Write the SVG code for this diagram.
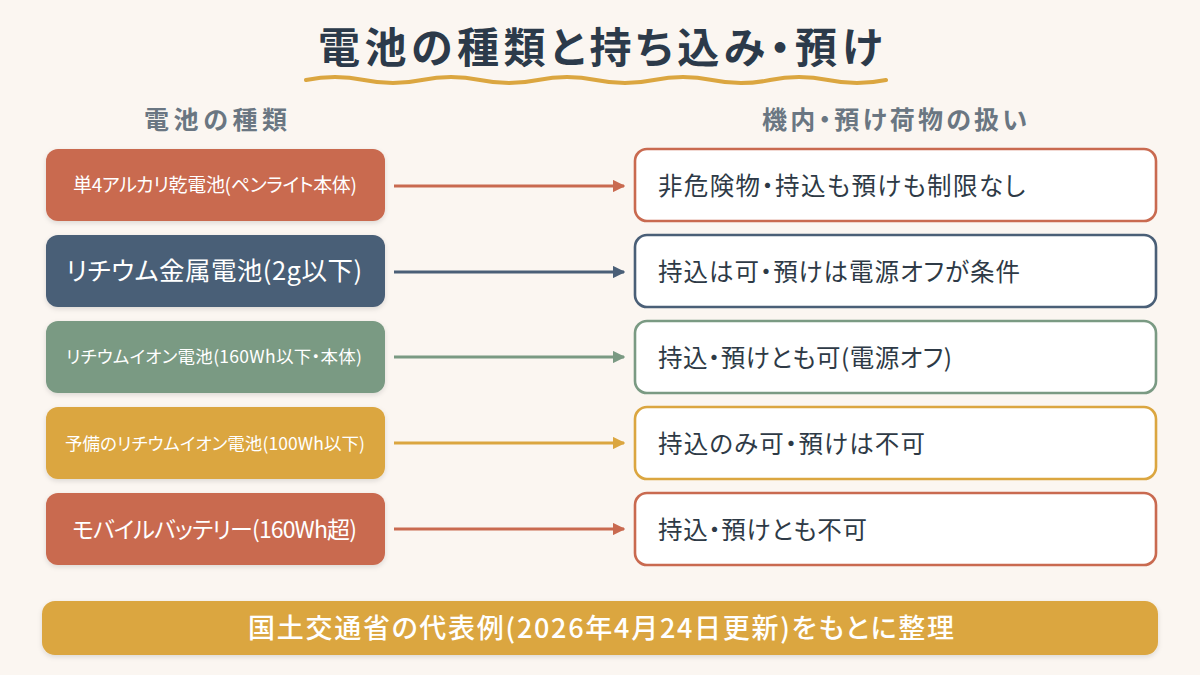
<svg xmlns="http://www.w3.org/2000/svg" width="1200" height="675" viewBox="0 0 1200 675">
  <defs>
    <filter id="sh" x="-5%" y="-10%" width="110%" height="130%">
      <feDropShadow dx="0" dy="2" stdDeviation="2.5" flood-color="#000" flood-opacity="0.12"/>
    </filter>
    <marker id="ah-red" viewBox="0 0 10 10" refX="9" refY="5" markerWidth="4.2" markerHeight="4.2" orient="auto"><path d="M0,0 L10,5 L0,10 z" fill="#C96A50"/></marker>
    <marker id="ah-blue" viewBox="0 0 10 10" refX="9" refY="5" markerWidth="4.2" markerHeight="4.2" orient="auto"><path d="M0,0 L10,5 L0,10 z" fill="#4A5F77"/></marker>
    <marker id="ah-green" viewBox="0 0 10 10" refX="9" refY="5" markerWidth="4.2" markerHeight="4.2" orient="auto"><path d="M0,0 L10,5 L0,10 z" fill="#7A9A83"/></marker>
    <marker id="ah-yellow" viewBox="0 0 10 10" refX="9" refY="5" markerWidth="4.2" markerHeight="4.2" orient="auto"><path d="M0,0 L10,5 L0,10 z" fill="#DBA640"/></marker>
  </defs>
  <style>
    text { font-family: "Noto Sans CJK JP", "Noto Sans", sans-serif; font-feature-settings: "palt" 1; }
    .title { font-size: 42px; font-weight: 700; fill: #2C3A4A; }
    .head { font-size: 25px; font-weight: 700; fill: #6A7682; }
    .lt { fill: #FFFFFF; font-weight: 400; }
    .rt { font-size: 24.5px; fill: #2E3A46; }
    .rbox { fill: #FFFFFF; stroke-width: 2.6; }
    .conn { fill: none; stroke-width: 3; }
    .red { fill: #C96A50; }
    .blue { fill: #4A5F77; }
    .green { fill: #7A9A83; }
    .yellow { fill: #DBA640; }
  </style>
  <rect width="1200" height="675" fill="#FBF6F1"/>

  <g id="title">
    <text class="title" x="318" y="63" textLength="564">電池の種類と持ち込み・預け</text>
    <path d="M306,80 q29,-6 58,0 t58,0 t58,0 t58,0 t58,0 t58,0 t58,0 t58,0 t58,0 t58,0" fill="none" stroke="#DBA640" stroke-width="4" stroke-linecap="round"/>
  </g>

  <g id="headers">
    <text class="head" x="144" y="129" textLength="143">電池の種類</text>
    <text class="head" x="762" y="129" textLength="265">機内・預け荷物の扱い</text>
  </g>

  <g id="left1">
    <rect class="red" x="46" y="149" width="339" height="72" rx="12" filter="url(#sh)"/>
    <text class="lt" x="73" y="192" font-size="19" textLength="284">単4アルカリ乾電池(ペンライト本体)</text>
  </g>
  <g id="left2">
    <rect class="blue" x="46" y="235" width="339" height="72" rx="12" filter="url(#sh)"/>
    <text class="lt" x="66" y="280" font-size="25.5" textLength="296">リチウム金属電池(2g以下)</text>
  </g>
  <g id="left3">
    <rect class="green" x="46" y="321" width="339" height="72" rx="12" filter="url(#sh)"/>
    <text class="lt" x="66" y="363" font-size="17.5" textLength="296">リチウムイオン電池(160Wh以下・本体)</text>
  </g>
  <g id="left4">
    <rect class="yellow" x="46" y="407" width="339" height="72" rx="12" filter="url(#sh)"/>
    <text class="lt" x="65" y="449.5" font-size="17.5" textLength="300">予備のリチウムイオン電池(100Wh以下)</text>
  </g>
  <g id="left5">
    <rect class="red" x="46" y="493" width="339" height="72" rx="12" filter="url(#sh)"/>
    <text class="lt" x="72" y="537.5" font-size="23" textLength="285">モバイルバッテリー(160Wh超)</text>
  </g>

  <g id="connectors">
    <line class="conn" x1="394" y1="186" x2="624" y2="186" stroke="#C96A50" marker-end="url(#ah-red)"/>
    <line class="conn" x1="394" y1="272" x2="624" y2="272" stroke="#4A5F77" marker-end="url(#ah-blue)"/>
    <line class="conn" x1="394" y1="357" x2="624" y2="357" stroke="#7A9A83" marker-end="url(#ah-green)"/>
    <line class="conn" x1="394" y1="443" x2="624" y2="443" stroke="#DBA640" marker-end="url(#ah-yellow)"/>
    <line class="conn" x1="394" y1="529" x2="624" y2="529" stroke="#C96A50" marker-end="url(#ah-red)"/>
  </g>

  <g id="right1">
    <rect class="rbox" x="635" y="149" width="521" height="72" rx="12" stroke="#C96A50"/>
    <text class="rt" x="658" y="194.5" textLength="367">非危険物・持込も預けも制限なし</text>
  </g>
  <g id="right2">
    <rect class="rbox" x="635" y="235" width="521" height="72" rx="12" stroke="#4A5F77"/>
    <text class="rt" x="658" y="280.5" textLength="362">持込は可・預けは電源オフが条件</text>
  </g>
  <g id="right3">
    <rect class="rbox" x="635" y="321" width="521" height="72" rx="12" stroke="#7A9A83"/>
    <text class="rt" x="658" y="366.5" textLength="294">持込・預けとも可(電源オフ)</text>
  </g>
  <g id="right4">
    <rect class="rbox" x="635" y="407" width="521" height="72" rx="12" stroke="#DBA640"/>
    <text class="rt" x="658" y="452.5" textLength="267">持込のみ可・預けは不可</text>
  </g>
  <g id="right5">
    <rect class="rbox" x="635" y="493" width="521" height="72" rx="12" stroke="#C96A50"/>
    <text class="rt" x="658" y="538.5" textLength="209">持込・預けとも不可</text>
  </g>

  <g id="footer">
    <rect class="yellow" x="42" y="601" width="1116" height="54" rx="13" filter="url(#sh)"/>
    <text x="248" y="638" font-size="27" font-weight="500" fill="#FFFFFF" textLength="706">国土交通省の代表例(2026年4月24日更新)をもとに整理</text>
  </g>
</svg>
